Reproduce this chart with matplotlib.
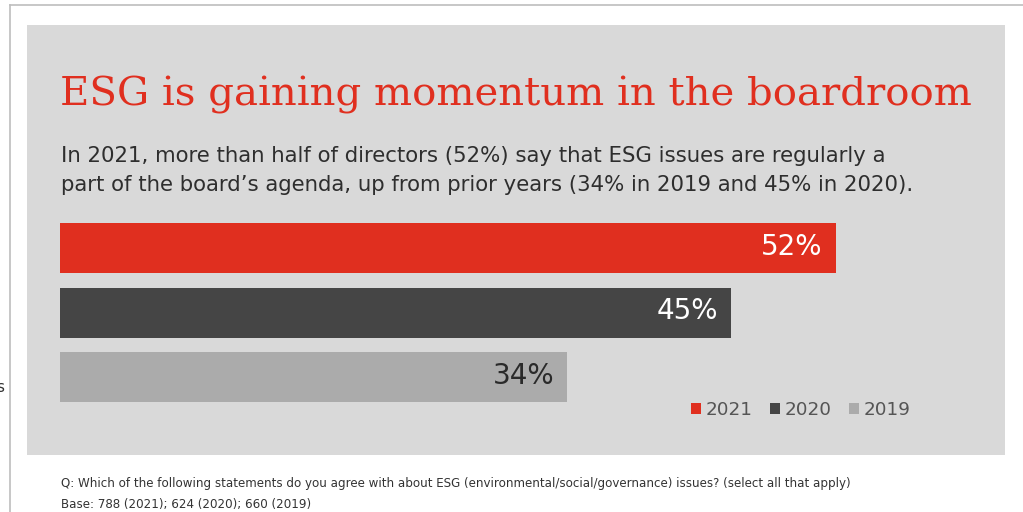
import matplotlib
matplotlib.use("Agg")
import matplotlib.pyplot as plt
from matplotlib.patches import Rectangle
from matplotlib.lines import Line2D

# Share of directors saying ESG is regularly on the board agenda
years = ["2021", "2020", "2019"]
shares = [52, 45, 34]
bar_colors = ["#E02F1F", "#454545", "#ABABAB"]
label_colors = ["white", "white", "#2A2A2A"]

title = "ESG is gaining momentum in the boardroom"
subtitle = [
    "In 2021, more than half of directors (52%) say that ESG issues are regularly a",
    "part of the board\u2019s agenda, up from prior years (34% in 2019 and 45% in 2020).",
]
footnotes = [
    "Q: Which of the following statements do you agree with about ESG "
    "(environmental/social/governance) issues? (select all that apply)",
    "Base: 788 (2021); 624 (2020); 660 (2019)",
]

W, H = 1023, 512
SANS = "DejaVu Sans"


def fx(x):
    return x / W


def fy(y):
    return 1 - y / H


fig = plt.figure(figsize=(W / 100, H / 100), dpi=100)
fig.patch.set_facecolor("white")

# thin frame lines along the top and left
fig.add_artist(Line2D([fx(10), 1], [fy(4.5), fy(4.5)], color="#BEBEBE", lw=1.2))
fig.add_artist(Line2D([fx(9.5), fx(9.5)], [fy(4.5), 0], color="#BEBEBE", lw=1.2))

# grey card behind the chart
fig.add_artist(Rectangle((fx(27), fy(455)), fx(1005) - fx(27), fy(25) - fy(455),
                         transform=fig.transFigure, facecolor="#D9D9D9",
                         edgecolor="none", zorder=0))

fig.text(fx(60), fy(105), title, fontfamily="DejaVu Serif", fontsize=29.0,
         color="#E02F1F", va="baseline", ha="left")
fig.text(fx(61), fy(162), subtitle[0], fontfamily=SANS, fontsize=15.3,
         color="#2E2E2E", va="baseline", ha="left")
fig.text(fx(61), fy(191), subtitle[1], fontfamily=SANS, fontsize=15.3,
         color="#2E2E2E", va="baseline", ha="left")

# bar area: x = 0 sits at pixel 60, bars 64.5 px apart
ax = fig.add_axes([fx(60), fy(410), fx(1005) - fx(60), fy(215) - fy(410)])
ax.set_facecolor("none")
ax.set_xlim(0, (1005 - 60) / 14.92)
ax.set_ylim((410 - 248) / 64.5, (215 - 248) / 64.5)
ax.axis("off")

for i, (yr, v, c, lc) in enumerate(zip(years, shares, bar_colors, label_colors)):
    ax.barh(i, v, height=50 / 64.5, color=c, label=yr, zorder=2)
    ax.annotate(f"{v}%", xy=(v, i), xytext=(-9.5, 1), textcoords="offset points",
                ha="right", va="center", fontfamily=SANS,
                fontsize=20, color=lc, zorder=3)

fig.legend(loc="center", bbox_to_anchor=(fx(801), fy(410)), ncol=3, frameon=False,
           prop={"family": SANS, "size": 13.2}, labelcolor="#555555",
           handlelength=0.55, handleheight=0.55, handletextpad=0.25,
           columnspacing=0.95, borderpad=0)

fig.text(fx(61), fy(487), footnotes[0], fontfamily=SANS, fontsize=8.6,
         color="#333333", va="baseline", ha="left")
fig.text(fx(61), fy(508), footnotes[1], fontfamily=SANS, fontsize=8.6,
         color="#333333", va="baseline", ha="left")

# clipped glyph at the far left edge
fig.text(fx(4), fy(392), "s", fontfamily=SANS, fontsize=11,
         color="#333333", va="baseline", ha="right")

fig.savefig("out.png", dpi=100)
